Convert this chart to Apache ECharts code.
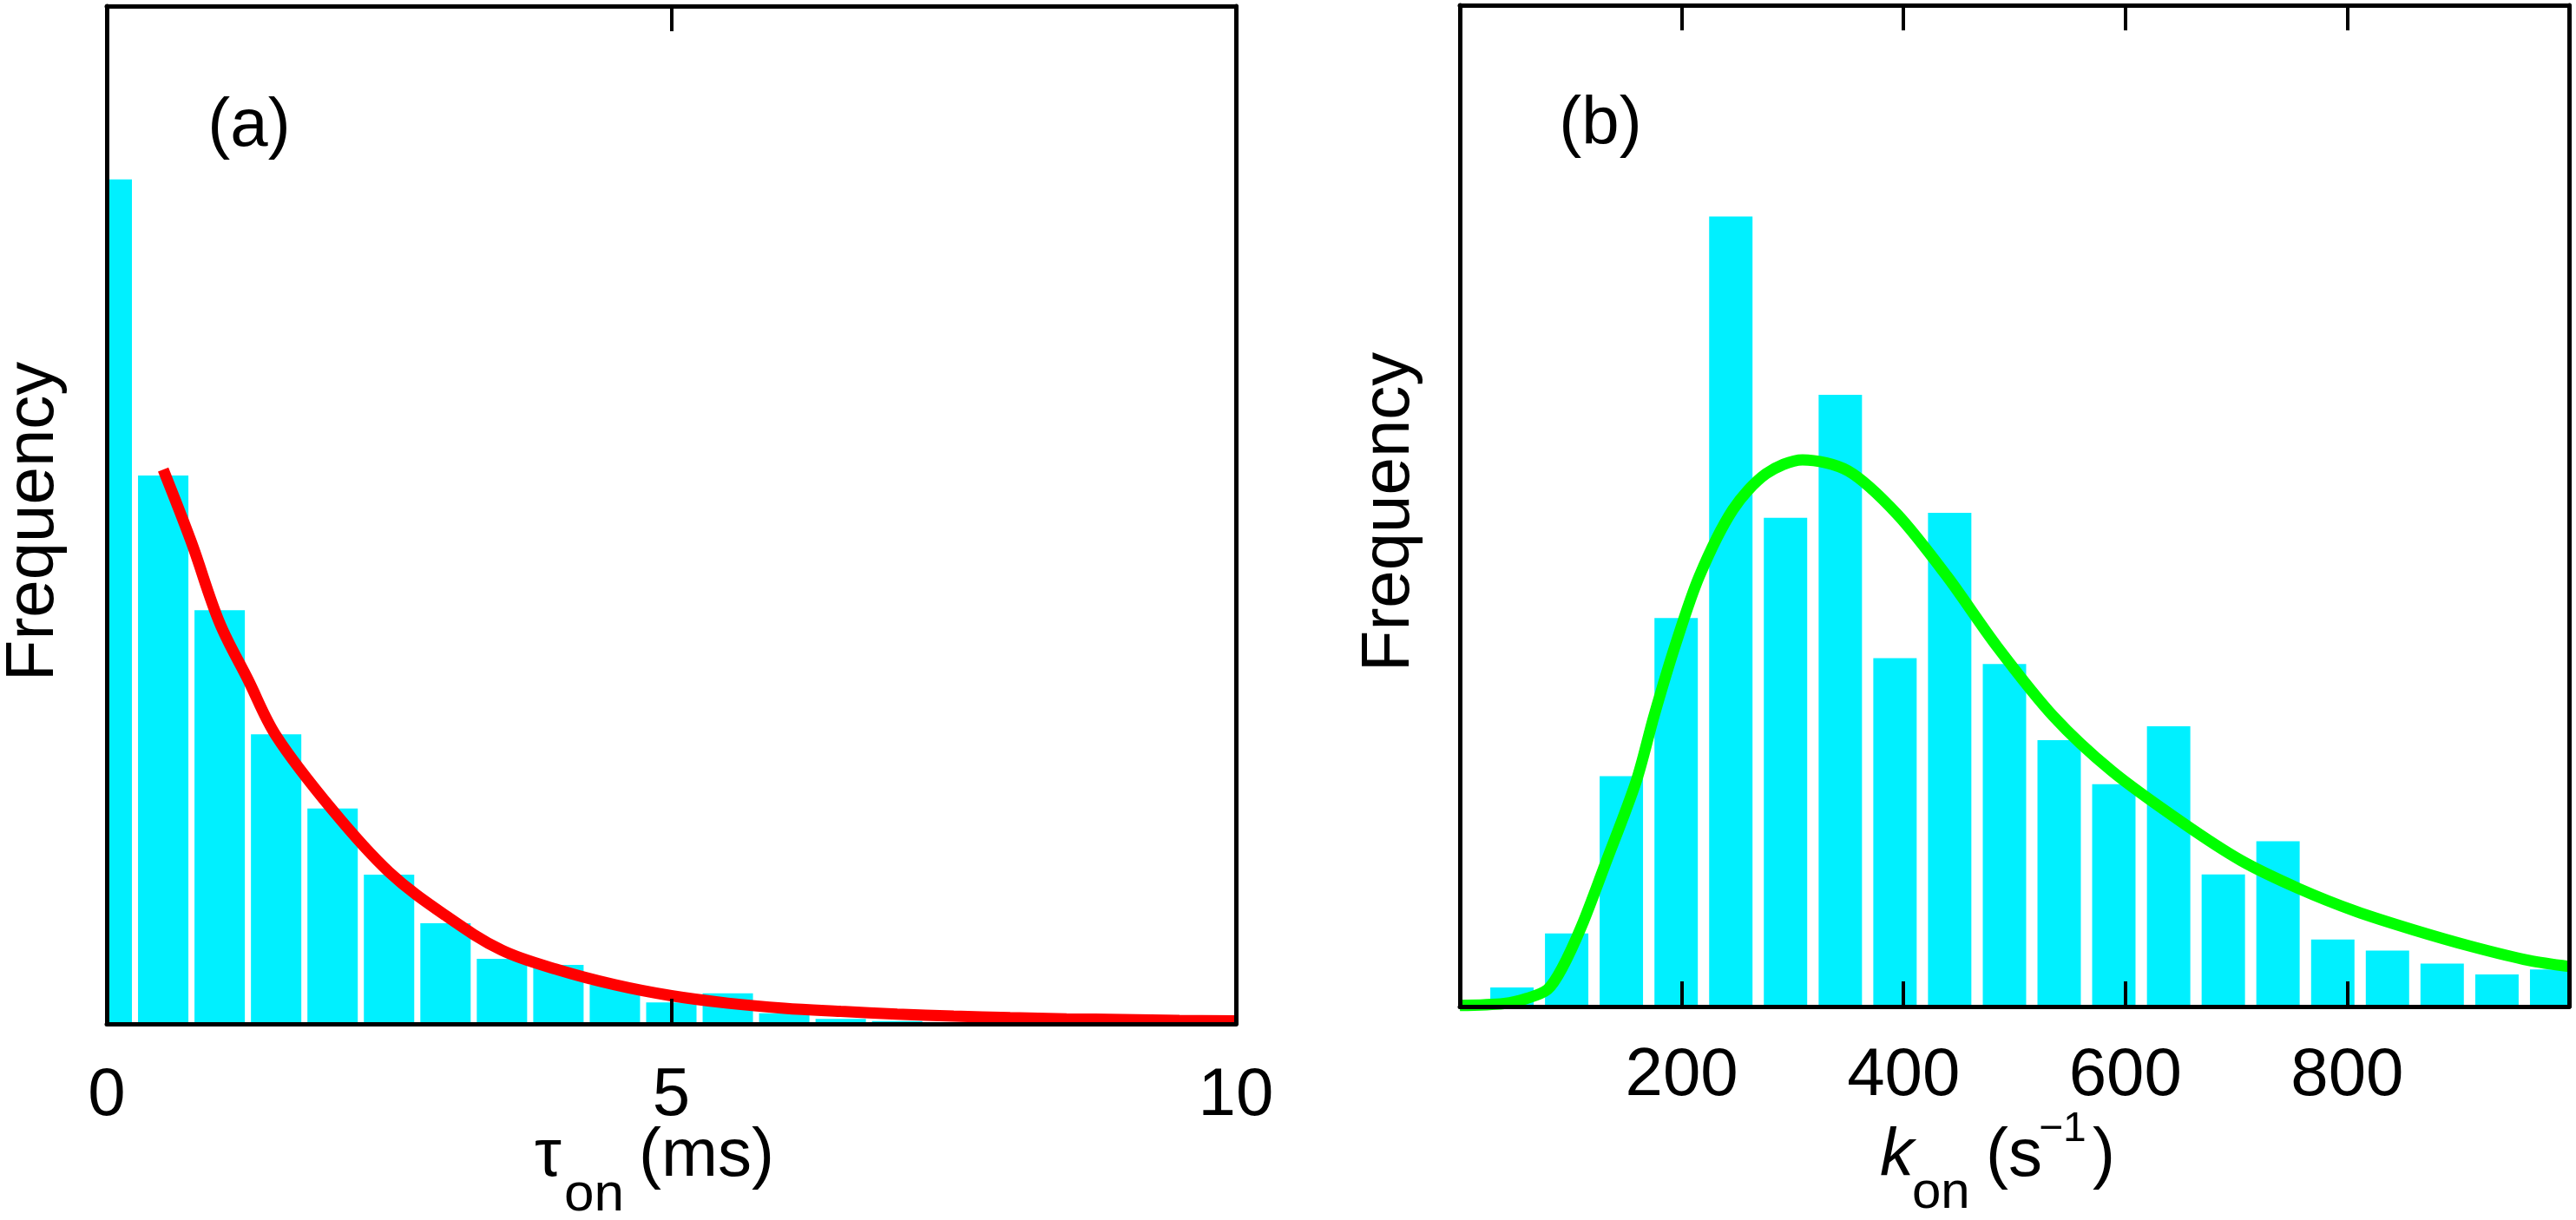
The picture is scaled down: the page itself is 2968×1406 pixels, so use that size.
<!DOCTYPE html>
<html>
<head>
<meta charset="utf-8">
<script src="https://cdn.jsdelivr.net/npm/echarts@6/dist/echarts.min.js"></script>
<style>
html,body{margin:0;padding:0;background:#fff;}
#c{width:2968px;height:1406px;}
</style>
</head>
<body>
<div id="c"></div>
<script>
// ---- Panel (a): tau_on histogram (bin centres in ms, counts in arbitrary frequency units)
const tauCenters = [0, 0.5, 1.0, 1.5, 2.0, 2.5, 3.0, 3.5, 4.0, 4.5, 5.0, 5.5, 6.0, 6.5, 7.0, 7.5, 8.0, 8.5, 9.0, 9.5];
const tauCounts  = [215.7, 140.1, 105.7, 74.0, 55.0, 38.1, 25.7, 16.6, 15.1, 10.0, 5.5, 7.8, 2.7, 1.3, 0.7, 0, 0, 0, 0, 0];
// exponential fit
const tauFitX = [0.5, 0.75, 1.0, 1.25, 1.5, 2.0, 2.5, 3.0, 3.5, 4.0, 4.5, 5.0, 5.5, 6.0, 6.5, 7.0, 7.5, 8.0, 8.5, 9.0, 9.5, 10.0];
const tauFitY = [141.6, 123.0, 102.4, 88.0, 73.6, 54.6, 38.8, 27.7, 18.8, 13.8, 10.0, 7.2, 5.3, 4.0, 3.2, 2.5, 2.0, 1.6, 1.3, 1.1, 0.9, 0.8];
const tauTicks = [0, 5, 10];

// ---- Panel (b): k_on histogram (bin centres in 1/s)
const konCenters = [47, 96.3, 145.6, 195, 244.3, 293.6, 343, 392.3, 441.6, 491, 540.3, 589.6, 639, 688.3, 737.6, 787, 836.3, 885.6, 935, 984.3];
const konCounts  = [1.9, 7.3, 23.0, 38.8, 78.9, 48.8, 61.1, 34.8, 49.3, 34.2, 26.6, 22.2, 28.0, 13.2, 16.5, 6.7, 5.6, 4.3, 3.2, 3.7];
// fitted distribution
const konFitX = [0, 40, 60, 79, 92, 110, 130, 159, 175, 194, 216, 246, 276, 309, 350, 394, 439, 484, 535, 588, 651, 704, 756, 808, 860, 912, 964, 1000];
const konFitY = [0.1, 0.3, 0.8, 1.7, 3.8, 8.1, 13.9, 22.5, 29.0, 36.0, 43.0, 49.6, 53.2, 54.6, 53.5, 49.2, 43.0, 36.0, 29.0, 23.5, 18.4, 14.6, 11.8, 9.5, 7.65, 6.0, 4.6, 4.0];
const konTicks = [200, 400, 600, 800];

const FF = '"Liberation Sans", Arial, Helvetica, sans-serif';
const BAR = '#00F0FF';
const TAU_HALF_BAR = 0.223;   // half bar width, ms
const KON_HALF_BAR = 19.55;   // half bar width, 1/s

function pairs(xs, ys) { return xs.map((x, i) => [x, ys[i]]); }

function barRenderer(half) {
  return function (params, api) {
    const x = api.value(0), y = api.value(1);
    const p0 = api.coord([x - half, 0]);
    const p1 = api.coord([x + half, y]);
    const rect = { x: p0[0], y: p1[1], width: p1[0] - p0[0], height: p0[1] - p1[1] };
    const cs = params.coordSys;
    const clipped = echarts.graphic.clipRectByRect(rect, { x: cs.x, y: cs.y, width: cs.width, height: cs.height });
    if (!clipped || clipped.height <= 0) return null;
    return { type: 'rect', shape: clipped, style: { fill: BAR } };
  };
}

function xAx(grid, min, max, interval, pos, labels, margin) {
  return {
    gridIndex: grid, type: 'value', min: min, max: max, interval: interval, position: pos, z: 5,
    axisLine: { show: true, onZero: false, lineStyle: { color: '#000', width: 5 } },
    axisTick: { show: true, inside: true, length: 29, lineStyle: { color: '#000', width: 4 } },
    axisLabel: labels ? { show: true, fontSize: 78, fontFamily: FF, color: '#000', margin: margin,
                          showMinLabel: grid === 0, showMaxLabel: grid === 0 } : { show: false },
    splitLine: { show: false }
  };
}
function yAx(grid, max, pos) {
  return {
    gridIndex: grid, type: 'value', min: 0, max: max, position: pos, z: 5,
    axisLine: { show: true, onZero: false, lineStyle: { color: '#000', width: 5 } },
    axisTick: { show: false }, axisLabel: { show: false }, splitLine: { show: false }
  };
}
function txt(s, x, y, font, align, extra) {
  return Object.assign({ type: 'text', x: x, y: y, z: 10,
    style: { text: s, font: font, fill: '#000', align: align || 'left', verticalAlign: 'middle' } }, extra || {});
}

const chart = echarts.init(document.getElementById('c'), null, { renderer: 'canvas' });
chart.setOption({
  animation: false,
  backgroundColor: '#ffffff',
  grid: [
    { left: 123, top: 7, width: 1301, height: 1173 },
    { left: 1682, top: 6, width: 1278, height: 1154 }
  ],
  xAxis: [
    xAx(0, tauTicks[0], tauTicks[2], tauTicks[1] - tauTicks[0], 'bottom', true, 44),
    xAx(0, tauTicks[0], tauTicks[2], tauTicks[1] - tauTicks[0], 'top', false),
    xAx(1, 0, 1000, konTicks[1] - konTicks[0], 'bottom', true, 41),
    xAx(1, 0, 1000, konTicks[1] - konTicks[0], 'top', false)
  ],
  yAxis: [
    yAx(0, 260, 'left'), yAx(0, 260, 'right'),
    yAx(1, 100, 'left'), yAx(1, 100, 'right')
  ],
  series: [
    { type: 'custom', xAxisIndex: 0, yAxisIndex: 0, data: pairs(tauCenters, tauCounts),
      encode: { x: 0, y: 1 }, renderItem: barRenderer(TAU_HALF_BAR) },
    { type: 'line', xAxisIndex: 0, yAxisIndex: 0, data: pairs(tauFitX, tauFitY),
      symbol: 'none', smooth: 0.35, clip: true, lineStyle: { color: '#FF0000', width: 13 } },
    { type: 'custom', xAxisIndex: 2, yAxisIndex: 2, data: pairs(konCenters, konCounts),
      encode: { x: 0, y: 1 }, renderItem: barRenderer(KON_HALF_BAR) },
    { type: 'line', xAxisIndex: 2, yAxisIndex: 2, data: pairs(konFitX, konFitY),
      symbol: 'none', smooth: 0.3, clip: true, lineStyle: { color: '#00FF00', width: 13 } }
  ],
  graphic: [
    txt('(a)', 287, 146, '78px ' + FF, 'center'),
    txt('(b)', 1844, 144, '78px ' + FF, 'center'),
    { type: 'text', x: 39, y: 601, rotation: Math.PI / 2, z: 10,
      style: { text: 'Frequency', font: '78px ' + FF, fill: '#000', align: 'center', verticalAlign: 'middle' } },
    { type: 'text', x: 1601, y: 590, rotation: Math.PI / 2, z: 10,
      style: { text: 'Frequency', font: '78px ' + FF, fill: '#000', align: 'center', verticalAlign: 'middle' } },
    // x-axis title (a): tau_on (ms)
    txt('\u03C4', 616, 1333, '78px ' + FF),
    txt('on', 650, 1378, '62px ' + FF),
    txt('(ms)', 736, 1333, '78px ' + FF),
    // x-axis title (b): k_on (s^-1)
    txt('k', 2166, 1333, 'italic 78px ' + FF),
    txt('on', 2203, 1375, '60px ' + FF),
    txt('(s', 2288, 1333, '78px ' + FF),
    txt('\u22121', 2349, 1302, '48px ' + FF),
    txt(')', 2411, 1333, '78px ' + FF)
  ]
});
</script>
</body>
</html>
